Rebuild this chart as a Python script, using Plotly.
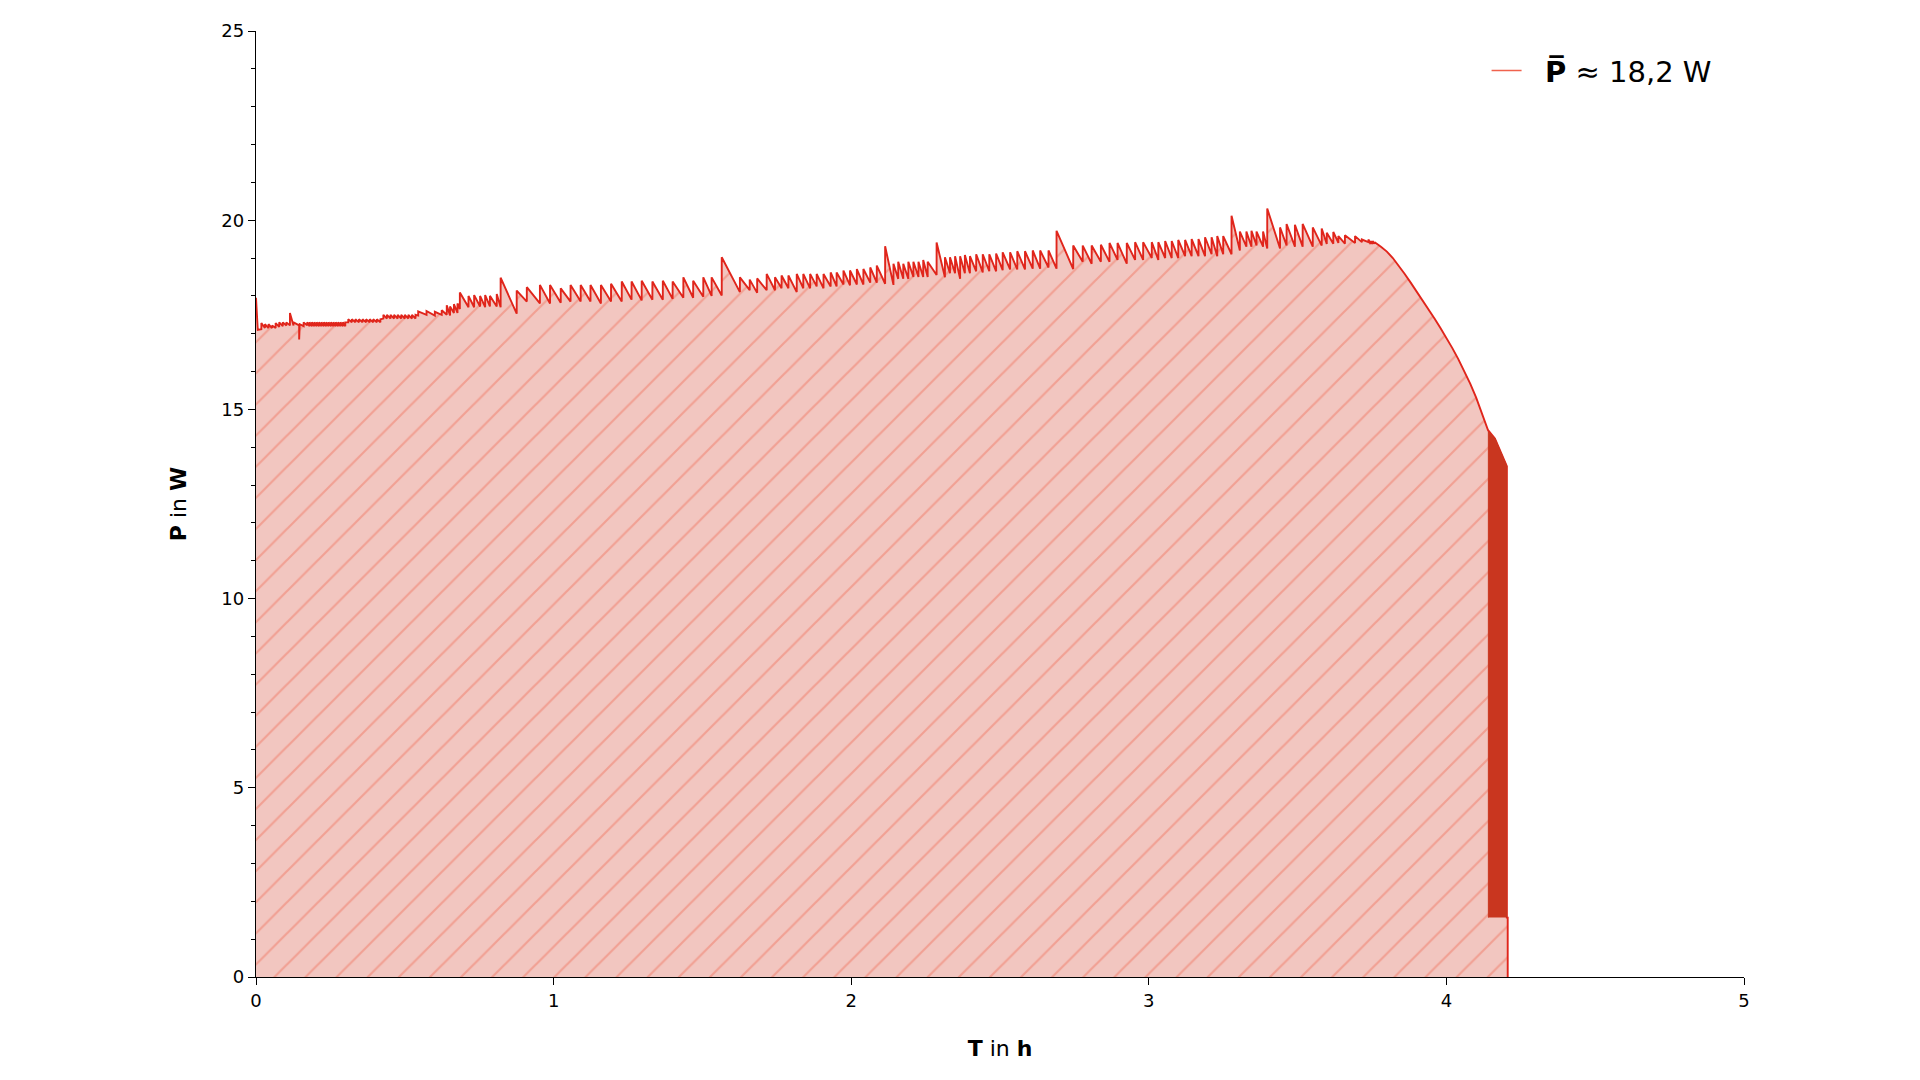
import plotly.graph_objects as go

# Power log: at every time the trace jumps from `jump_from` to `jump_to`,
# then runs straight to the next entry.
jump_t = [
    # start + flat part
    0.000, 0.006, 0.018, 0.030, 0.042, 0.054, 0.066, 0.078, 0.090, 0.102,
    0.114, 0.126, 0.145, 0.147, 0.160, 0.172,
    0.180, 0.188, 0.196, 0.204, 0.212, 0.220, 0.228, 0.236, 0.244, 0.252,
    0.260, 0.268, 0.276, 0.284, 0.292, 0.300,
    0.310, 0.322, 0.334, 0.346, 0.358, 0.370, 0.382, 0.394, 0.406, 0.418,
    0.428, 0.440, 0.452, 0.464, 0.476, 0.488, 0.500, 0.512, 0.524, 0.536,
    0.545, 0.573, 0.601, 0.624, 0.641, 0.652, 0.665, 0.677,
    0.685, 0.714, 0.733, 0.753, 0.770, 0.786, 0.809, 0.822,
    # teeth ~18.3 W
    0.876, 0.910, 0.954, 0.988, 1.024, 1.057, 1.091, 1.124, 1.159, 1.193,
    1.229, 1.262, 1.296, 1.332, 1.367, 1.400, 1.436, 1.469, 1.503, 1.531,
    1.565,
    # teeth ~18.5 W
    1.626, 1.659, 1.684, 1.716, 1.744, 1.766, 1.789, 1.817, 1.839, 1.862,
    1.884, 1.907, 1.931, 1.951, 1.974, 1.996, 2.019, 2.041, 2.064, 2.086,
    2.114,
    2.142, 2.158, 2.175, 2.192, 2.209, 2.226, 2.242, 2.257,
    2.287,
    # teeth ~19 W
    2.315, 2.332, 2.349, 2.366, 2.382, 2.399, 2.420, 2.442, 2.464, 2.487,
    2.509, 2.534, 2.558, 2.584, 2.610, 2.635, 2.663,
    2.690,
    2.746, 2.778, 2.808, 2.839, 2.868, 2.895, 2.926, 2.954, 2.981, 3.010,
    3.032, 3.055, 3.077, 3.099, 3.122, 3.144, 3.167, 3.189, 3.211, 3.230,
    3.250,
    3.278,
    3.306, 3.328, 3.345, 3.362, 3.384,
    3.398,
    3.441, 3.463, 3.491, 3.517, 3.551, 3.581, 3.598, 3.620, 3.637, 3.659,
    3.693, 3.716, 3.738, 3.745, 3.752, 3.759,
    # decline
    3.780, 3.800, 3.820, 3.840, 3.860, 3.880, 3.900, 3.920, 3.940, 3.960,
    3.980, 4.000, 4.020, 4.040, 4.060, 4.080, 4.100, 4.120, 4.140, 4.163,
    4.191, 4.203, 4.205, 4.206,
]
jump_from = [
    17.95, 17.10, 17.12, 17.15, 17.15, 17.15, 17.15, 17.18, 17.20, 17.22,
    17.22, 17.22, 17.22, 17.25, 17.20, 17.22,
    17.20, 17.20, 17.20, 17.20, 17.20, 17.20, 17.20, 17.20, 17.20, 17.20,
    17.20, 17.20, 17.20, 17.20, 17.20, 17.20,
    17.30, 17.30, 17.30, 17.30, 17.30, 17.30, 17.30, 17.30, 17.30, 17.30,
    17.40, 17.40, 17.40, 17.40, 17.40, 17.40, 17.40, 17.40, 17.40, 17.40,
    17.48, 17.50, 17.48, 17.50, 17.50, 17.48, 17.55, 17.55,
    17.65, 17.70, 17.70, 17.72, 17.70, 17.72, 17.72, 17.70,
    17.53, 17.85, 17.80, 17.80, 17.82, 17.85, 17.85, 17.85, 17.80, 17.85,
    17.85, 17.90, 17.88, 17.90, 17.90, 17.92, 17.95, 17.95, 17.98, 18.00,
    18.01,
    18.10, 18.15, 18.08, 18.15, 18.15, 18.20, 18.20, 18.10, 18.20, 18.20,
    18.25, 18.20, 18.25, 18.25, 18.30, 18.28, 18.30, 18.30, 18.35, 18.35,
    18.32,
    18.29, 18.45, 18.45, 18.45, 18.50, 18.50, 18.50, 18.50,
    18.55,
    18.49, 18.60, 18.60, 18.45, 18.60, 18.60, 18.65, 18.62, 18.65, 18.65,
    18.68, 18.70, 18.70, 18.70, 18.72, 18.72, 18.75,
    18.72,
    18.71, 18.90, 18.85, 18.90, 18.90, 18.95, 18.85, 18.95, 18.95, 19.00,
    18.95, 19.00, 19.00, 19.00, 19.05, 19.05, 19.05, 19.05, 19.10, 19.05,
    19.10,
    19.10,
    19.20, 19.30, 19.30, 19.33, 19.30,
    19.25,
    19.25, 19.33, 19.30, 19.30, 19.30, 19.33, 19.37, 19.38, 19.40, 19.38,
    19.40, 19.42, 19.42, 19.37, 19.37, 19.38,
    19.30, 19.17, 19.00, 18.80, 18.58, 18.35, 18.12, 17.88, 17.64, 17.40,
    17.15, 16.89, 16.62, 16.33, 16.02, 15.68, 15.31, 14.90, 14.45, 14.23,
    13.71, 13.50, 1.57, 1.57,
]
jump_to = [
    17.95, 17.10, 17.28, 17.25, 17.25, 17.22, 17.28, 17.30, 17.30, 17.30,
    17.55, 17.30, 16.85, 17.25, 17.30, 17.30,
    17.30, 17.30, 17.30, 17.30, 17.30, 17.30, 17.30, 17.30, 17.30, 17.30,
    17.30, 17.30, 17.30, 17.30, 17.30, 17.30,
    17.38, 17.38, 17.38, 17.38, 17.38, 17.38, 17.38, 17.38, 17.38, 17.38,
    17.50, 17.50, 17.50, 17.50, 17.50, 17.50, 17.50, 17.50, 17.50, 17.50,
    17.59, 17.60, 17.58, 17.62, 17.75, 17.72, 17.78, 17.80,
    18.09, 18.00, 18.02, 18.00, 18.02, 18.00, 18.05, 18.48,
    18.14, 18.23, 18.29, 18.29, 18.20, 18.29, 18.29, 18.29, 18.29, 18.32,
    18.38, 18.38, 18.40, 18.38, 18.40, 18.38, 18.49, 18.40, 18.49, 18.49,
    19.02,
    18.49, 18.43, 18.46, 18.58, 18.49, 18.54, 18.54, 18.58, 18.58, 18.58,
    18.58, 18.58, 18.62, 18.62, 18.67, 18.67, 18.71, 18.71, 18.75, 18.80,
    19.31,
    18.85, 18.90, 18.85, 18.90, 18.90, 18.90, 18.95, 18.90,
    19.41,
    19.02, 19.02, 19.05, 19.05, 19.08, 19.05, 19.10, 19.10, 19.10, 19.12,
    19.15, 19.15, 19.18, 19.18, 19.20, 19.20, 19.20,
    19.72,
    19.33, 19.33, 19.33, 19.35, 19.40, 19.40, 19.40, 19.42, 19.42, 19.42,
    19.42, 19.45, 19.45, 19.48, 19.48, 19.50, 19.50, 19.55, 19.55, 19.58,
    19.58,
    20.12,
    19.70, 19.70, 19.72, 19.70, 19.70,
    20.31,
    19.81, 19.90, 19.88, 19.90, 19.81, 19.78, 19.67, 19.69, 19.58, 19.60,
    19.58, 19.49, 19.49, 19.45, 19.45, 19.42,
    19.30, 19.17, 19.00, 18.80, 18.58, 18.35, 18.12, 17.88, 17.64, 17.40,
    17.15, 16.89, 16.62, 16.33, 16.02, 15.68, 15.31, 14.90, 14.45, 14.23,
    13.71, 1.57, 1.57, 0.00,
]

# dense end-of-run block
block_t = [4.141, 4.141, 4.163, 4.191, 4.203, 4.203]
block_p = [1.57, 14.41, 14.23, 13.71, 13.50, 1.57]

mean_label = "\u00a0\u00a0<b>P\u0305</b> \u2248 18,2 W"

t_line, p_line = [], []
for t, a, b in zip(jump_t, jump_from, jump_to):
    t_line.append(t)
    p_line.append(a)
    if b != a:
        t_line.append(t)
        p_line.append(b)

fig = go.Figure()
fig.add_trace(go.Scatter(
    x=t_line, y=p_line, mode="lines", fill="tozeroy",
    line=dict(color="#e0251b", width=1.9),
    fillcolor="#f2c6c0",
    fillpattern=dict(shape="/", fgcolor="#f07a66", bgcolor="#f2c6c0",
                     size=22, solidity=0.1),
    showlegend=False, hoverinfo="skip"))
fig.add_trace(go.Scatter(
    x=block_t, y=block_p, mode="lines", fill="toself",
    line=dict(color="#c9361f", width=1), fillcolor="#c9361f",
    showlegend=False, hoverinfo="skip"))
# legend entry for the mean power
fig.add_trace(go.Scatter(
    x=[None], y=[None], mode="lines", name=mean_label,
    line=dict(color="#f0624d", width=1.5)))

axis_style = dict(showline=True, linecolor="#000", linewidth=1.3,
                  ticks="outside", ticklen=7, tickwidth=1.3, tickcolor="#000",
                  showgrid=False, zeroline=False,
                  tickfont=dict(size=18, color="#000"))

fig.update_xaxes(range=[0, 5], dtick=1, **axis_style,
                 title=dict(text="<b>T</b> in <b>h</b>", standoff=30,
                            font=dict(size=22, color="#000")))
fig.update_yaxes(range=[0, 25], dtick=5, **axis_style,
                 minor=dict(dtick=1, ticks="outside", ticklen=4,
                            tickwidth=1.1, tickcolor="#000", showgrid=False),
                 title=dict(text="<b>P</b> in <b>W</b>", standoff=28,
                            font=dict(size=22, color="#000")))

fig.update_layout(
    width=1920, height=1080,
    margin=dict(l=248, r=184, t=20, b=111),
    plot_bgcolor="white", paper_bgcolor="white",
    font=dict(family="DejaVu Sans", color="#000"),
    legend=dict(x=0.827, y=0.958, xanchor="left", yanchor="middle",
                bgcolor="rgba(0,0,0,0)", font=dict(size=29, color="#000")),
)

fig.write_html("out.html")
